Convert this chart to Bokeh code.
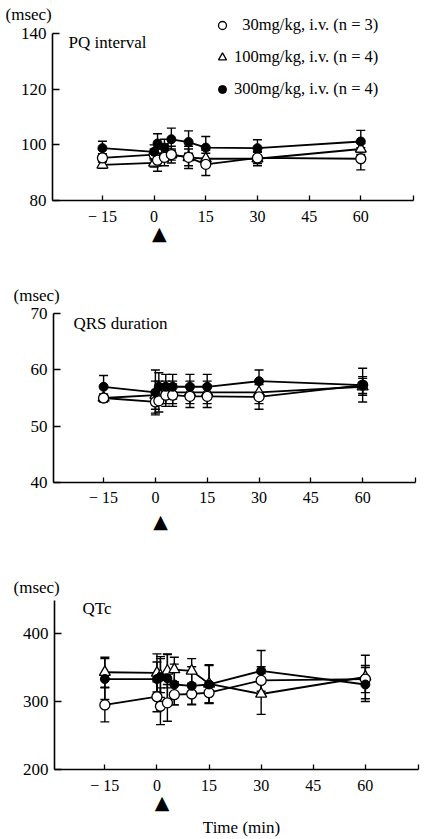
from bokeh.plotting import figure
from bokeh.layouts import column
from bokeh.models import FixedTicker, Label, Legend, LegendItem, LinearAxis
from bokeh.embed import file_html
from bokeh.resources import INLINE

# ---------------- data ----------------
times = [-15, 0, 1, 3, 5, 10, 15, 30, 60]
x_ticks = [-15, 0, 15, 30, 45, 60]
x_min, x_max = -29.5, 75.3
dose_time = 1.5

pq_30 = [95.3, 96.5, 94.5, 95.5, 96.5, 95.5, 93.0, 95.3, 95.0]
pq_30_err = [1.5, 2.0, 4.0, 3.0, 2.0, 4.0, 4.0, 2.0, 4.0]
pq_100 = [92.8, 93.5, 95.5, 97.0, 96.5, 95.5, 95.0, 95.0, 98.5]
pq_100_err = [1.2, 1.5, 3.0, 3.0, 3.0, 3.0, 3.0, 2.5, 2.0]
pq_300 = [98.8, 97.5, 100.5, 99.0, 102.0, 101.0, 99.0, 98.8, 101.2]
pq_300_err = [2.5, 2.5, 3.5, 3.0, 4.0, 4.0, 4.0, 3.0, 4.0]
pq_ticks = [80, 100, 120, 140]

qrs_30 = [55.0, 54.3, 54.5, 55.5, 55.5, 55.3, 55.3, 55.2, 57.3]
qrs_30_err = [0.5, 2.0, 2.0, 2.0, 2.0, 2.0, 2.0, 2.2, 1.5]
qrs_100 = [55.0, 55.5, 56.0, 56.0, 56.0, 56.0, 56.0, 56.0, 57.0]
qrs_100_err = [0.7, 2.5, 2.0, 2.0, 2.0, 2.0, 2.0, 2.0, 1.5]
qrs_300 = [57.0, 56.0, 57.0, 57.0, 57.0, 57.0, 57.0, 58.0, 57.3]
qrs_300_err = [2.0, 4.0, 2.5, 2.2, 2.2, 2.2, 2.2, 2.0, 3.0]
qrs_ticks = [40, 50, 60, 70]

qtc_30 = [295, 307, 293, 298, 310, 311, 313, 331, 333]
qtc_30_err = [25, 22, 27, 27, 15, 15, 15, 20, 20]
qtc_100 = [343, 342, 338, 345, 347, 345, 326, 311, 336]
qtc_100_err = [22, 28, 25, 25, 18, 18, 28, 30, 32]
qtc_300 = [333, 333, 336, 334, 325, 323, 325, 345, 325]
qtc_300_err = [30, 25, 30, 35, 30, 28, 28, 30, 25]
qtc_ticks = [200, 300, 400]
qtc_top = 448.5

legend_labels = ["\u200730mg/kg, i.v. (n = 3)",
                 "100mg/kg, i.v. (n = 4)",
                 "300mg/kg, i.v. (n = 4)"]

FONT = "Liberation Serif"
W = 424


def lin(p0, v0, p1, v1):
    k = (v1 - v0) / (p1 - p0)
    return lambda p: v0 + (p - p0) * k


def panel(height, xpix, ypix, ybounds, yticks, series, title,
          msec_px, title_px, tri_px, xlabel_px=None, legend=False):
    # xpix: pixel columns of x_min and x_max; ypix: pixel rows of ybounds
    fx = lin(xpix[0], x_min, xpix[1], x_max)
    fy = lin(ypix[0], ybounds[1], ypix[1], ybounds[0])
    p = figure(width=W, height=height,
               x_range=(fx(0), fx(W)), y_range=(fy(height), fy(0)),
               output_backend="svg", toolbar_location=None,
               min_border=0, x_axis_type=None, y_axis_type=None)
    p.outline_line_color = None
    p.grid.visible = False

    xa = LinearAxis(fixed_location=ybounds[0], bounds=(x_min, x_max))
    xa.ticker = FixedTicker(ticks=x_ticks + [x_max])
    xa.major_label_overrides = {-15: "\u2212 15", x_max: ""}
    xa.major_tick_in = 5
    xa.major_tick_out = 0
    xa.minor_tick_line_color = None
    xa.axis_line_color = "black"
    xa.major_tick_line_color = "black"
    xa.axis_line_width = 1.5
    xa.major_tick_line_width = 1.3
    xa.major_label_text_font = FONT
    xa.major_label_text_font_size = "16px"
    xa.major_label_text_color = "black"
    xa.major_label_standoff = 7
    p.add_layout(xa, "below")

    ya = LinearAxis(fixed_location=x_min, bounds=ybounds)
    ya.ticker = FixedTicker(ticks=yticks)
    ya.major_tick_in = 7
    ya.major_tick_out = 0
    ya.minor_tick_line_color = None
    ya.axis_line_color = "black"
    ya.major_tick_line_color = "black"
    ya.axis_line_width = 1.6
    ya.major_tick_line_width = 1.3
    ya.major_label_text_font = FONT
    ya.major_label_text_font_size = "17px"
    ya.major_label_text_color = "black"
    ya.major_label_standoff = 6
    p.add_layout(ya, "left")

    for vals, errs, kind in series:
        p.line(times, vals, line_color="black", line_width=1.8)
        lo = [v - e for v, e in zip(vals, errs)]
        hi = [v + e for v, e in zip(vals, errs)]
        p.segment(x0=times, y0=lo, x1=times, y1=hi, line_color="black",
                  line_width=1.4)
        p.scatter(times, lo, marker="dash", size=9, line_color="black",
                  line_width=1.4)
        p.scatter(times, hi, marker="dash", size=9, line_color="black",
                  line_width=1.4)
    rends = {}
    for vals, errs, kind in [series[1], series[0], series[2]]:
        if kind == "open":
            r = p.scatter(times, vals, marker="circle", size=10,
                          fill_color="white", line_color="black",
                          line_width=1.3)
        elif kind == "tri":
            r = p.scatter(times, vals, marker="triangle", size=11,
                          fill_color="white", line_color="black",
                          line_width=1.3)
        else:
            r = p.scatter(times, vals, marker="circle", size=9,
                          fill_color="black", line_color="black")
        rends[kind] = r

    p.add_layout(Label(x=fx(msec_px[0]), y=fy(msec_px[1]), text="(msec)",
                       text_font=FONT, text_font_size="17px",
                       text_color="black",
                       text_baseline="middle", text_align="left"))
    p.add_layout(Label(x=fx(title_px[0]), y=fy(title_px[1]), text=title,
                       text_font=FONT, text_font_size="17px",
                       text_color="black",
                       text_baseline="middle", text_align="left"))
    p.add_layout(Label(x=dose_time, y=fy(tri_px), text="\u25B2",
                       text_font="DejaVu Sans", text_font_size="19px",
                       text_color="black",
                       text_baseline="middle", text_align="center"))
    if xlabel_px is not None:
        p.add_layout(Label(x=fx(xlabel_px[0]), y=fy(xlabel_px[1]),
                           text="Time (min)", text_font=FONT,
                           text_font_size="17px", text_color="black",
                           text_baseline="middle", text_align="center"))

    if legend:
        items = [LegendItem(label=legend_labels[0], renderers=[rends["open"]]),
                 LegendItem(label=legend_labels[1], renderers=[rends["tri"]]),
                 LegendItem(label=legend_labels[2], renderers=[rends["fill"]])]
        lg = Legend(items=items, location=(212, height - 99), padding=0,
                    margin=0, spacing=12, glyph_width=20, glyph_height=20,
                    label_height=20, label_standoff=2,
                    label_text_font=FONT, label_text_font_size="16.5px",
                    label_text_color="black",
                    border_line_alpha=0, background_fill_alpha=0)
        p.add_layout(lg)
    return p


p1 = panel(265, (52, 413), (33, 200), (80, 140), pq_ticks,
           [(pq_30, pq_30_err, "open"), (pq_100, pq_100_err, "tri"),
            (pq_300, pq_300_err, "fill")],
           "PQ interval", (5, 14), (68, 42), 232.5, legend=True)

p2 = panel(280, (53, 415), (48.3, 216.7), (40, 70), qrs_ticks,
           [(qrs_30, qrs_30_err, "open"), (qrs_100, qrs_100_err, "tri"),
            (qrs_300, qrs_300_err, "fill")],
           "QRS duration", (13, 30), (73, 57.7), 255)

p3 = panel(294, (54, 418), (55, 224), (200, qtc_top), qtc_ticks,
           [(qtc_30, qtc_30_err, "open"), (qtc_100, qtc_100_err, "tri"),
            (qtc_300, qtc_300_err, "fill")],
           "QTc", (13, 42), (82, 63), 256, xlabel_px=(241, 282))

layout = column(p1, p2, p3, spacing=0)
open("out.html", "w").write(file_html(layout, INLINE))
